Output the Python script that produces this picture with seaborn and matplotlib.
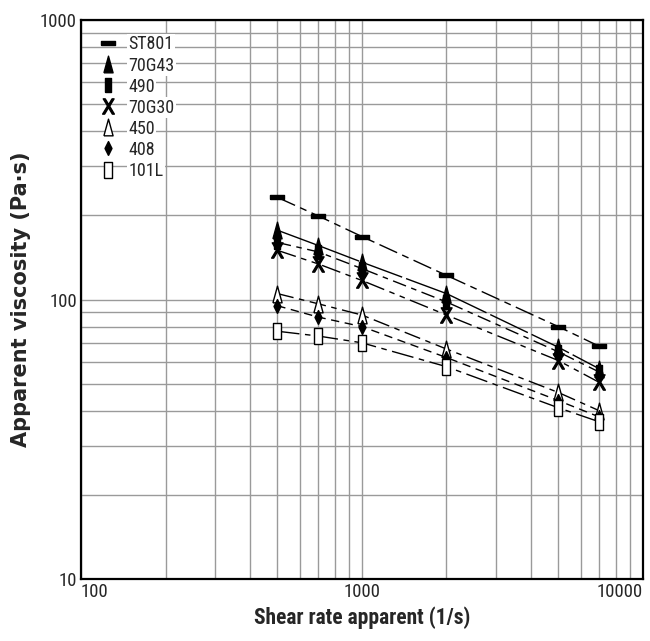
import matplotlib.pyplot as plt
import numpy as np
import pandas as pd
import seaborn as sns
from matplotlib.lines import Line2D
from matplotlib.ticker import NullFormatter, FixedLocator

sns.set_style('white')
plt.rcParams['font.family'] = ['Roboto Condensed', 'DejaVu Sans']
plt.rcParams['font.stretch'] = 'condensed'

#%% data
shear_rate = [500, 700, 1000, 2000, 5000, 7000]
grades = ['ST801', '70G43', '490', '70G30', '450', '408', '101L']
visc_st801 = [232, 199, 168, 122, 80, 68]
visc_70g43 = [177, 156, 136, 105, 67.5, 56.5]
visc_490 = [160, 148, 129, 98, 65, 55]
visc_70g30 = [150, 134, 117, 88, 60.5, 50.5]
visc_450 = [105, 96.5, 88, 66.5, 46.5, 40]
visc_408 = [95, 86.5, 80, 62, 43.5, 38]
visc_101l = [77, 74, 70, 57.5, 41, 36.5]

all_visc = [visc_st801, visc_70g43, visc_490, visc_70g30, visc_450, visc_408, visc_101l]
df = pd.concat([pd.DataFrame({'grade': g, 'rate': shear_rate, 'visc': v})
                for g, v in zip(grades, all_visc)])

#%% marker shapes / line styles (closed outlines)
bar = [(-1, -0.32), (1, -0.32), (1, 0.32), (-1, 0.32), (-1, -0.32)]
tall_tri = [(-0.55, -1), (0.55, -1), (0, 1), (-0.55, -1)]
tall_rect = [(-0.4, -1), (0.4, -1), (0.4, 1), (-0.4, 1), (-0.4, -1)]
tall_box = [(-0.5, -1), (0.5, -1), (0.5, 1), (-0.5, 1), (-0.5, -1)]
thin_diamond = [(0, -1), (0.5, 0), (0, 1), (-0.5, 0), (0, -1)]
styles = {
    'ST801': dict(marker=bar, ms=10, mfc='black', ls=(0, (14, 4, 5, 4))),
    '70G43': dict(marker=tall_tri, ms=12, mfc='black', ls=(0, (30, 3))),
    '490': dict(marker=tall_rect, ms=10, mfc='black', ls=(0, (10, 4, 4, 4))),
    '70G30': dict(marker='$\\mathsf{X}$', ms=11, mfc='black', ls=(0, (14, 4, 4, 4, 4, 4))),
    '450': dict(marker=tall_tri, ms=12, mfc='white', ls=(0, (12, 4, 4, 4))),
    '408': dict(marker=thin_diamond, ms=10, mfc='black', ls=(0, (6, 4))),
    '101L': dict(marker=tall_box, ms=11, mfc='white', ls=(0, (16, 4, 4, 4))),
}

fig = plt.figure(figsize=(6.5, 6.41), dpi=100)
ax = fig.add_axes([0.1246, 0.0967, 0.8644, 0.8721])

for g, d in df.groupby('grade', sort=False):
    st = styles[g]
    sns.lineplot(data=d, x='rate', y='visc', ax=ax, color='black', lw=1,
                 linestyle=st['ls'], marker=st['marker'], markersize=st['ms'],
                 markerfacecolor=st['mfc'], markeredgecolor='black',
                 markeredgewidth=1, zorder=3)

ax.set(xscale='log', yscale='log', xlim=(100, 10000), ylim=(10, 1000))
ax.xaxis.set_major_locator(FixedLocator([100, 1000, 10000]))
ax.yaxis.set_major_locator(FixedLocator([10, 100, 1000]))
ax.set_xticklabels(['100', '1000', '10000'])
ax.set_yticklabels(['10', '100', '1000'])
ax.xaxis.set_minor_formatter(NullFormatter())
ax.yaxis.set_minor_formatter(NullFormatter())
ax.tick_params(which='both', length=0, labelsize=13.5, pad=3)
xl = ax.get_xticklabels()
xl[0].set_ha('left')
xl[-1].set_ha('right')
ax.grid(True, which='both', color='#9a9a9a', lw=1)
ax.set_axisbelow(True)
for s in ax.spines.values():
    s.set_visible(True)
    s.set_color('black')
    s.set_linewidth(1.6)
    s.set_zorder(5)

ax.set_xlabel('Shear rate apparent (1/s)', fontsize=15.5, fontweight='bold', labelpad=4)
ax.set_ylabel('Apparent viscosity (Pa·s)', fontsize=15, fontweight='bold', labelpad=6,
              family=['DejaVu Sans'], fontstretch='normal')

# legend: markers only, white behind the text
handles = [Line2D([], [], ls='none', color='black', marker=styles[g]['marker'],
                  markersize=styles[g]['ms'], markerfacecolor=styles[g]['mfc'],
                  markeredgecolor='black', markeredgewidth=1) for g in grades]
leg = ax.legend(handles, grades, loc='upper left', frameon=False, fontsize=13,
                handlelength=1.0, handletextpad=0.6, labelspacing=0.17,
                borderaxespad=0.3, bbox_to_anchor=(0.01, 0.995))
for t in leg.get_texts():
    t.set_bbox(dict(facecolor='white', edgecolor='none', pad=1))

fig.savefig('out.png', dpi=100)
